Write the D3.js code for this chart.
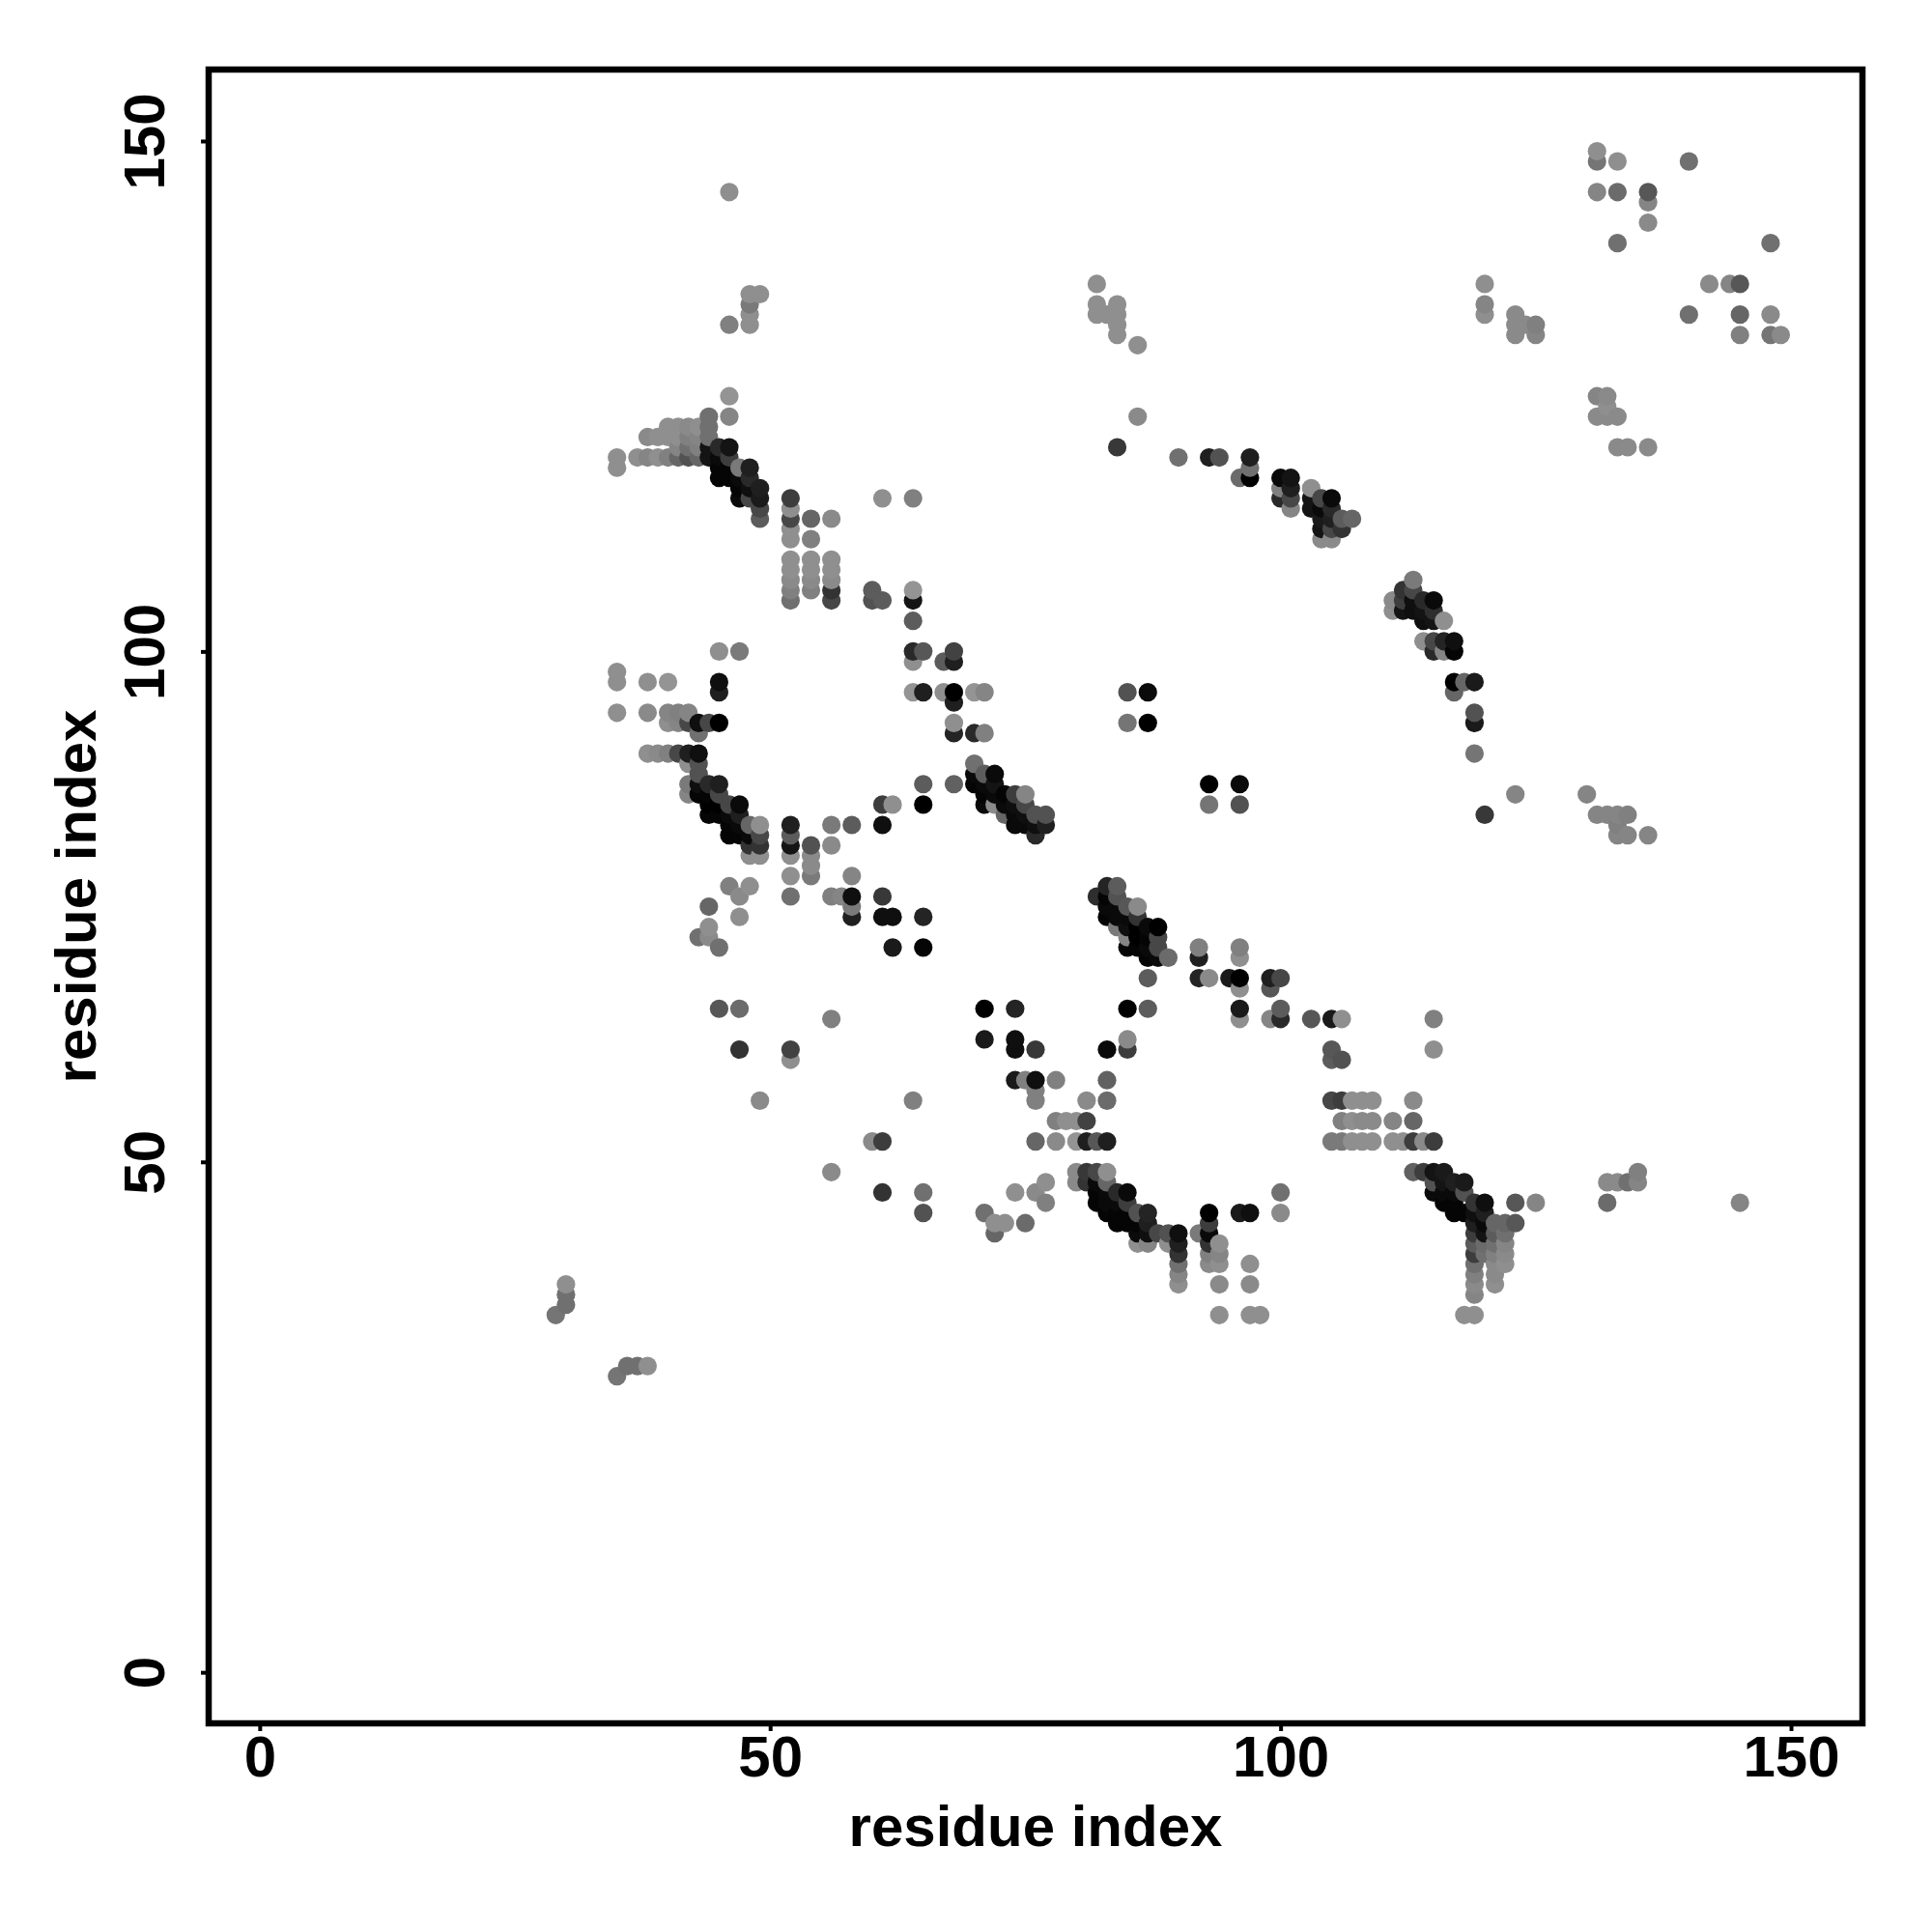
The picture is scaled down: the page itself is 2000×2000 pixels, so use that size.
<!DOCTYPE html>
<html>
<head>
<meta charset="utf-8">
<script src="https://cdn.jsdelivr.net/npm/d3@7/dist/d3.min.js"></script>
<style>
html,body{margin:0;padding:0;background:#fff}
svg{display:block}
text{font-family:"Liberation Sans",Arial,sans-serif;font-weight:bold;fill:#000}
</style>
</head>
<body>
<svg id="c" width="2000" height="2000"></svg>
<script>
// Each entry: [residue i, residue j, shade (0 darkest .. 145 lightest)]
const lowFragments = [[29,35,115],[30,36,110],[30,37,110],[30,38,140],[35,29,115],[36,30,110],[37,30,110],[38,30,140]];

const upperLeftTop = [[46,145,140],[48,135,140],[49,135,140],[48,134,120],[48,133,140],[48,132,140],[46,132,125],[46,125,145],[46,123,130],
 [44,123,110],[40,122,140],[41,122,140],[42,122,135],[43,122,140],[44,122,110],
 [38,121,135],[39,121,140],[40,121,140],[41,121,140],[42,121,125],[43,121,130],[44,121,110],
 [41,120,130],[42,120,110],[43,120,125],[44,120,20],[45,120,40],[46,120,20],
 [35,119,140],[37,119,140],[38,119,130],[39,119,140],[40,119,125],[41,119,100],[42,119,80],[43,119,100],[44,119,20],[45,119,10],[46,119,60],
 [35,118,140],[45,118,5],[46,118,5],[47,118,120],[48,118,30],
 [45,117,5],[46,117,5],[47,117,10],[48,117,40],
 [47,116,5],[48,116,15],[49,116,30],
 [47,115,10],[48,115,70],[49,115,25],[52,115,60],[61,115,140],[64,115,125],
 [49,114,70],[52,114,140],[49,113,90],[52,113,70],[54,113,100],[56,113,135],
 [52,112,140],[52,111,140],[54,111,125],
 [52,109,140],[54,109,140],[56,109,140],[52,108,140],[54,108,140],[56,108,140],[52,107,135],[54,107,135],[56,107,135],
 [52,106,125],[54,106,125],[56,106,50],[60,106,90],[64,106,145],[52,105,110],[56,105,70],[60,105,80],[61,105,90],[64,105,20],[64,103,90]];

const midLeftBand = [[45,100,140],[47,100,120],[64,100,40],[65,100,85],[68,100,65],[64,99,140],[67,99,90],[68,99,30],
 [35,98,140],[35,97,140],[38,97,140],[40,97,145],[45,97,15],[45,96,30],[64,96,145],[65,96,30],[67,96,140],[68,96,0],[70,96,145],[71,96,130],
 [68,95,30],[35,94,140],[38,94,135],[40,94,130],[41,94,125],[42,94,130],
 [40,93,140],[41,93,130],[42,93,70],[43,93,15],[44,93,70],[45,93,0],[68,93,140],
 [43,92,110],[68,92,35],[70,92,40],[71,92,125],
 [38,90,140],[39,90,135],[40,90,125],[41,90,70],[42,90,30],[43,90,15],
 [42,89,140],[43,89,80],[70,89,110],[43,88,80],[70,88,10],[71,88,90],[72,88,10],
 [42,87,120],[43,87,15],[44,87,40],[45,87,30],[65,87,90],[68,87,95],[70,87,5],[71,87,10],[72,87,20],
 [42,86,130],[43,86,5],[44,86,5],[45,86,70],[71,86,5],[72,86,10],[73,86,5],[74,86,60],[75,86,130],
 [44,85,0],[45,85,0],[46,85,70],[47,85,10],[61,85,60],[62,85,140],[65,85,0],[71,85,10],[72,85,135],[73,85,10],[74,85,15],[75,85,70],
 [44,84,5],[45,84,5],[46,84,10],[47,84,30],[73,84,100],[74,84,10],[75,84,15],[76,84,80],[77,84,80],
 [46,83,5],[47,83,10],[48,83,100],[49,83,140],[52,83,30],[56,83,120],[58,83,90],[61,83,15],[74,83,10],[75,83,10],[76,83,15],[77,83,30],
 [46,82,5],[47,82,5],[48,82,10],[49,82,70],[52,82,90],[76,82,40],
 [48,81,50],[49,81,50],[52,81,20],[54,81,80],[56,81,135],[48,80,140],[49,80,140],[52,80,140],[54,80,135],[54,79,135],
 [52,78,140],[54,78,120],[58,78,130],[46,77,125],[48,77,140],[47,76,135],[52,76,110],[56,76,125],[57,76,130],[58,76,15],[61,76,55],
 [44,75,100],[58,75,120],[47,74,140],[58,74,30],[61,74,15],[62,74,15],[65,74,35],[44,73,140],[43,72,110],[44,72,135],[45,71,110],[62,71,25],[65,71,5]];

const lowerLeft = [[45,65,85],[47,65,105],[71,65,0],[74,65,35],[56,64,125],[71,62,25],[74,62,15],[47,61,50],[52,61,65],[74,61,15],[76,61,55],[52,60,140],
 [74,58,25],[75,58,125],[76,58,15],[78,58,125],[83,58,95],[76,57,125],[49,56,135],[64,56,125],[76,56,125],[81,56,135],[83,56,105],
 [78,54,125],[79,54,140],[80,54,140],[81,54,65],[60,52,135],[61,52,60],[76,52,100],[78,52,135],[80,52,145],[81,52,30],[82,52,85],[83,52,30],
 [56,49,135],[80,49,135],[81,49,55],[82,49,70],[83,49,140],[77,48,140],[80,48,135],[81,48,50],[82,48,10],[83,48,100],
 [61,47,50],[65,47,110],[74,47,140],[76,47,135],[82,47,5],[83,47,10],[84,47,40],[85,47,10],[77,46,125],[82,46,5],[83,46,10],[84,46,10],[85,46,60],
 [65,45,80],[71,45,110],[83,45,5],[84,45,5],[85,45,5],[86,45,80],[87,45,35],[72,44,140],[73,44,140],[75,44,105],[84,44,5],[85,44,5],[86,44,5],[87,44,30],
 [72,43,100],[86,43,10],[87,43,15],[88,43,70],[89,43,80],[90,43,15],[86,42,140],[87,42,130],[89,42,140],[90,42,30],[90,41,50],[90,40,110],[90,39,130],[90,38,140]];

const midColumn = [[82,136,140],[82,134,140],[82,133,140],[83,133,140],[84,134,140],[84,133,140],[84,132,140],[84,131,140],[86,130,140],[86,123,135],[84,120,55],
 [90,119,110],[93,119,30],[94,119,80],[97,119,30],[97,118,110],[96,117,105],[97,117,0],[100,117,10],[101,117,20],[100,116,125],[101,116,30],[100,115,40],[101,115,70],[101,114,130],
 [103,116,140],[103,115,20],[104,115,70],[105,115,10],[103,114,20],[104,114,10],[105,114,40],[104,113,25],[105,113,30],[106,113,90],[107,113,100],[104,112,20],[105,112,70],[106,112,50],[104,111,135],[105,111,135],
 [85,96,80],[87,96,10],[85,93,115],[87,93,0],[93,87,0],[96,87,10],[93,85,115],[96,85,80],
 [82,76,45],[83,77,35],[84,77,90],[83,76,5],[84,76,80],[83,75,10],[84,75,10],[85,75,85],[86,75,135],[83,74,5],[84,74,10],[85,74,10],[86,74,50],
 [84,73,120],[85,73,15],[86,73,0],[87,73,10],[88,73,0],[85,72,130],[86,72,0],[87,72,5],[88,72,70],[85,71,5],[86,71,5],[87,71,10],[88,71,70],[87,70,5],[88,70,10],[89,70,105],
 [87,68,90],[92,68,35],[93,68,135],[95,68,25],[96,68,0],[99,68,30],[100,68,70],[92,71,125],[96,71,125],[92,70,30],[96,70,140],[96,67,140],[99,67,85],
 [85,65,0],[87,65,90],[96,65,25],[100,65,90],[96,64,140],[99,64,130],[100,64,40],[103,64,85],[105,64,25],[106,64,140],[115,64,125],
 [85,62,135],[83,61,10],[85,61,60],[105,61,85],[115,61,140],[105,60,90],[106,60,80]];

const rightBand = [[113,107,120],[112,106,50],[113,106,70],[111,105,135],[112,105,60],[113,105,15],[114,105,40],[115,105,10],[111,104,140],[112,104,20],[113,104,15],[114,104,20],[115,104,45],
 [114,103,15],[115,103,20],[116,103,140],[114,101,140],[115,101,70],[116,101,35],[117,101,15],[115,100,40],[116,100,130],[117,100,5],
 [117,97,0],[118,97,100],[119,97,25],[117,96,100],[119,94,80],[119,93,25],[119,90,115],[120,84,55],
 [120,136,140],[120,134,130],[120,133,140],[123,86,130],[130,86,130],[131,84,130],[132,84,130],[133,84,130],[134,84,125],[133,83,125],[133,82,130],[134,82,130],[136,82,130]];

const lowerRight = [[105,56,70],[106,56,60],[107,56,140],[108,56,140],[109,56,140],[113,56,135],
 [106,54,125],[107,54,140],[108,54,135],[109,54,135],[111,54,130],[113,54,100],
 [105,52,120],[106,52,120],[107,52,140],[108,52,140],[109,52,140],[111,52,140],[112,52,140],[113,52,60],[114,52,135],[115,52,60],
 [113,49,95],[114,49,60],[115,49,20],[116,49,25],[115,48,80],[116,48,20],[117,48,30],[118,48,25],
 [100,47,110],[115,47,10],[116,47,10],[117,47,10],[118,47,80],[116,46,5],[117,46,5],[119,46,50],[120,46,15],[123,46,85],[125,46,130],
 [93,45,0],[96,45,25],[97,45,15],[100,45,135],[117,45,5],[118,45,5],[119,45,15],[120,45,30],
 [93,44,60],[119,44,30],[120,44,10],[121,44,100],[122,44,100],[123,44,85],
 [92,43,120],[93,43,10],[119,43,60],[120,43,20],[121,43,90],[122,43,110],
 [93,42,50],[94,42,140],[119,42,90],[120,42,105],[121,42,110],[122,42,130],[93,41,125],[94,41,130],[119,41,60],[120,41,110],[121,41,125],[122,41,135],
 [93,40,135],[94,40,140],[97,40,140],[119,40,110],[121,40,135],[122,40,140],[119,39,125],[121,39,135],[119,38,135],[94,38,135],[97,38,135],[121,38,140],[119,37,130],
 [94,35,140],[97,35,140],[98,35,140],[118,35,140],[119,35,140],
 [132,48,135],[133,48,135],[134,48,110],[135,48,130],[135,49,125],[132,46,105],[145,46,130]];

const upperRight = [[131,149,140],[131,148,115],[133,148,140],[140,148,110],[131,145,130],[133,145,105],[136,145,85],[136,144,130],[136,142,135],
 [133,140,110],[148,140,110],[142,136,135],[144,136,130],[145,136,85],
 [123,133,135],[123,132,135],[123,131,135],[124,132,135],[125,132,125],[125,131,130],
 [140,133,110],[145,133,100],[148,133,135],[145,131,125],[148,131,115],[149,131,135],
 [131,125,130],[132,125,135],[132,124,140],[131,123,135],[132,123,135],[133,123,135],[133,120,135],[134,120,135],[136,120,135]];

const tickValues = [0, 50, 100, 150];
const axisTitle = "residue index";
const domain = [-5, 157];

const contacts = [...lowFragments, ...upperLeftTop, ...midLeftBand, ...lowerLeft, ...midColumn, ...rightBand, ...lowerRight, ...upperRight]
  .map(([i, j, s]) => ({i, j, s}))
  .sort((a, b) => d3.ascending(a.i, b.i) || d3.ascending(a.j, b.j));

const L = 216, R = 1928, T = 72, B = 1784;
const x = d3.scaleLinear().domain(domain).range([L, R]);
const y = d3.scaleLinear().domain(domain).range([B, T]);
const shade = d3.scaleLinear().domain([0, 145]).range(["#000000", "#949494"]);

const svg = d3.select("#c");

svg.append("g").selectAll("circle").data(contacts).join("circle")
  .attr("cx", d => x(d.i)).attr("cy", d => y(d.j)).attr("r", 9.6)
  .attr("fill", d => shade(d.s));

svg.append("rect").attr("x", L).attr("y", T).attr("width", R - L).attr("height", B - T)
  .attr("fill", "none").attr("stroke", "#000").attr("stroke-width", 6.5);

const gx = svg.append("g").attr("transform", `translate(0,${B})`)
  .call(d3.axisBottom(x).tickValues(tickValues).tickSize(8).tickPadding(0).tickFormat(d3.format("d")));
const gy = svg.append("g").attr("transform", `translate(${L},0)`)
  .call(d3.axisLeft(y).tickValues(tickValues).tickSize(8).tickFormat(d3.format("d")));
[gx, gy].forEach(g => {
  g.select(".domain").remove();
  g.selectAll(".tick line").attr("stroke", "#000").attr("stroke-width", 4);
});
gx.selectAll(".tick text").attr("y", 55).attr("dy", 0).attr("font-size", 60).attr("text-anchor", "middle");
gy.selectAll(".tick text").attr("x", 0).attr("y", 0).attr("dy", 0).attr("font-size", 60).attr("text-anchor", "middle")
  .attr("transform", "translate(-46,0) rotate(-90)");

svg.append("text").attr("x", (L + R) / 2).attr("y", 1911).attr("text-anchor", "middle").attr("font-size", 60).text(axisTitle);
svg.append("text").attr("transform", `translate(99,${(T + B) / 2}) rotate(-90)`).attr("text-anchor", "middle").attr("font-size", 60).text(axisTitle);
</script>
</body>
</html>
